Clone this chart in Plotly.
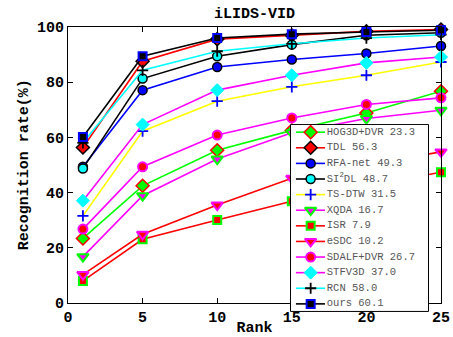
import plotly.graph_objects as go

ranks = [1, 5, 10, 15, 20, 25]

hog3d_dvr = [23.3, 42.4, 55.3, 62.5, 68.8, 76.7]
tdl = [56.3, 87.6, 95.6, 97.0, 98.4, 99.1]
rfa_net = [49.3, 77.1, 85.5, 88.2, 90.4, 93.1]
si2dl = [48.7, 81.3, 89.4, 93.6, 97.0, 97.9]
ts_dtw = [31.5, 62.2, 73.1, 78.3, 82.5, 87.3]
xqda = [16.7, 38.8, 52.1, 61.6, 66.8, 69.8]
isr = [7.9, 23.0, 30.0, 36.8, 42.3, 47.3]
esdc = [10.2, 24.8, 35.4, 45.1, 50.0, 54.7]
sdalf_dvr = [26.7, 49.3, 60.8, 67.0, 71.9, 74.3]
stfv3d = [37.0, 64.6, 77.1, 82.5, 87.0, 89.1]
rcn = [58.0, 84.3, 91.2, 93.9, 96.0, 97.2]
ours = [60.1, 89.4, 96.0, 97.4, 98.2, 98.8]

names = ['HOG3D+DVR 23.3', 'TDL 56.3', 'RFA-net 49.3', 'SI<sup>2</sup>DL 48.7',
         'TS-DTW 31.5', 'XQDA 16.7', 'ISR 7.9', 'eSDC 10.2', 'SDALF+DVR 26.7',
         'STFV3D 37.0', 'RCN 58.0', 'ours 60.1']
series = [hog3d_dvr, tdl, rfa_net, si2dl, ts_dtw, xqda, isr, esdc, sdalf_dvr,
          stfv3d, rcn, ours]

G, R, B, K, C, Y, M = '#00ff00', '#ff0000', '#0000ff', '#000000', '#00ffff', '#ffff00', '#ff00ff'
# (line color, symbol, fill, edge, size, edge width)
styles = [
    (G, 'diamond', G, R, 10, 1.5),
    (R, 'diamond', R, K, 10, 1.5),
    (B, 'circle', B, K, 9, 1.5),
    (K, 'circle', C, K, 9, 1.5),
    (Y, 'cross-thin', B, B, 8, 1.8),
    (M, 'triangle-down', M, G, 10, 2),
    (R, 'square', R, G, 8, 2),
    (R, 'triangle-down', R, M, 10, 2),
    (M, 'circle', R, M, 9, 2),
    (M, 'diamond', C, C, 10, 1),
    (C, 'cross-thin', K, K, 8, 1.8),
    (K, 'square', K, B, 8, 2),
]

FONT = 'Liberation Mono, Courier New, Cousine, monospace'
fig = go.Figure()

for name, vals, st in zip(names, series, styles):
    lc, sym, fill, edge, size, ew = st
    fig.add_trace(go.Scatter(
        x=ranks, y=vals, mode='lines+markers', name=name, cliponaxis=False,
        line=dict(color=lc, width=1.6),
        marker=dict(symbol=sym, color=fill, size=size,
                    line=dict(color=edge, width=ew)),
        xaxis='x', yaxis='y'))

# custom legend drawn in its own subplot
n = len(names)
ytop, ybot = -0.53, 11.52
eps_x, eps_y = 0.004, 0.035
fig.add_trace(go.Scatter(
    x=[eps_x, 1 - eps_x, 1 - eps_x, eps_x, eps_x],
    y=[ytop + eps_y, ytop + eps_y, ybot - eps_y, ybot - eps_y, ytop + eps_y],
    mode='lines', fill='toself', fillcolor='white',
    line=dict(color='black', width=1), xaxis='x2', yaxis='y2', hoverinfo='skip'))
for i, (name, st) in enumerate(zip(names, styles)):
    lc, sym, fill, edge, size, ew = st
    fig.add_trace(go.Scatter(x=[0.043, 0.252], y=[i, i], mode='lines',
                             line=dict(color=lc, width=1.6), xaxis='x2', yaxis='y2'))
    fig.add_trace(go.Scatter(x=[0.149], y=[i], mode='markers', cliponaxis=False,
                             marker=dict(symbol=sym, color=fill, size=size,
                                         line=dict(color=edge, width=ew)),
                             xaxis='x2', yaxis='y2'))
fig.add_trace(go.Scatter(x=[0.265] * n, y=list(range(n)), mode='text', text=names,
                         textposition='middle right', cliponaxis=False,
                         textfont=dict(family=FONT, size=10.5, color='#555555'),
                         xaxis='x2', yaxis='y2'))

axfont = dict(family=FONT, size=15, color='black', weight='bold')
fig.update_layout(
    width=453, height=337,
    margin=dict(l=68, r=12, t=27, b=10, autoexpand=False),
    paper_bgcolor='white', plot_bgcolor='white',
    showlegend=False,
    font=dict(family=FONT),
    title=dict(text='<b>iLIDS-VID</b>', x=0.5, xref='paper', y=1 - 12.5 / 337,
               yanchor='middle', xanchor='center',
               font=dict(family=FONT, size=15, color='black')),
    xaxis=dict(domain=[0, 1], range=[0, 25], tickvals=[0, 5, 10, 15, 20, 25],
               showline=True, mirror='ticks', linecolor='black', linewidth=1,
               ticks='inside', ticklen=5, tickcolor='black', showgrid=False,
               zeroline=False, tickfont=axfont, anchor='y', automargin=False,
               title=dict(text='Rank', font=axfont, standoff=2)),
    yaxis=dict(domain=[0.081, 1], range=[0, 100], tickvals=[0, 20, 40, 60, 80, 100],
               showline=True, mirror='ticks', linecolor='black', linewidth=1,
               ticks='inside', ticklen=5, tickcolor='black', showgrid=False,
               zeroline=False, tickfont=axfont, anchor='x', automargin=False,
               title=dict(text='Recognition rate(%)', font=axfont, standoff=4)),
    xaxis2=dict(domain=[0.595, 0.968], range=[0, 1], visible=False, anchor='y2'),
    yaxis2=dict(domain=[0.05, 0.677], range=[ybot, ytop], visible=False, anchor='x2'),
)

fig.write_html('out.html', config={'displayModeBar': False},
               post_script="document.body.style.margin='0';document.body.style.overflow='hidden';")
